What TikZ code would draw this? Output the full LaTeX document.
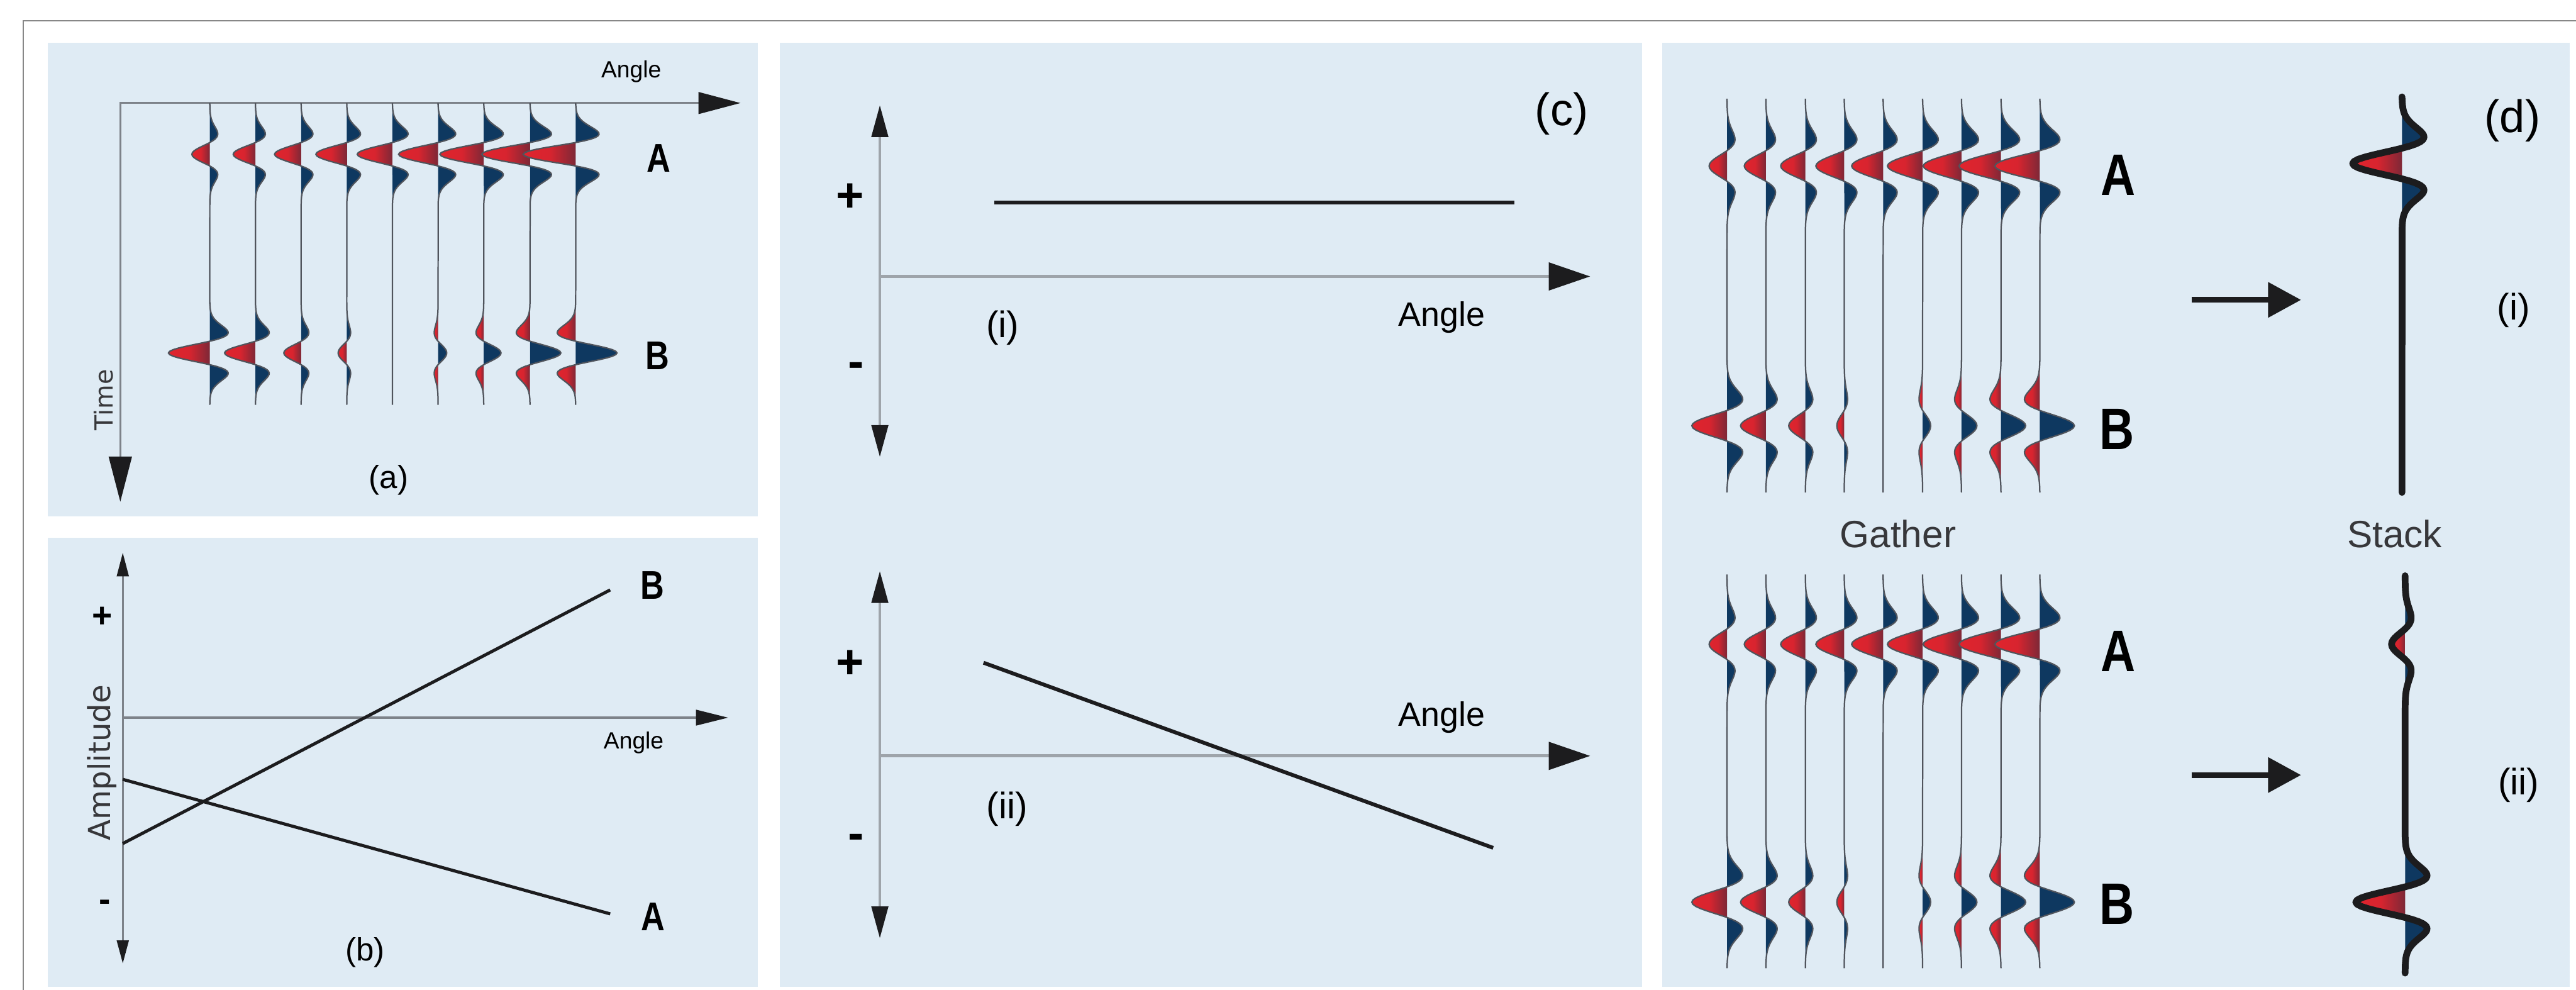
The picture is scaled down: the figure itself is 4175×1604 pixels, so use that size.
\documentclass[tikz,border=0pt]{standalone}
\usepackage{fontspec}
\setmainfont{Liberation Sans}
\newfontfamily\lsans{Liberation Sans}
\newfontfamily\nsans[FakeStretch=0.82]{Liberation Sans}
\newfontfamily\dsans{DejaVu Sans}
\definecolor{panelbg}{RGB}{223,235,244}
\definecolor{framec}{RGB}{135,135,135}
\definecolor{axisa}{RGB}{125,130,137}
\definecolor{axisc}{RGB}{158,164,170}
\definecolor{wredb}{RGB}{224,36,46}
\definecolor{wredd}{RGB}{125,40,55}
\definecolor{wblue}{RGB}{14,56,96}
\definecolor{tracec}{RGB}{80,84,92}
\definecolor{inkc}{RGB}{28,28,30}
\definecolor{textg}{RGB}{55,55,58}
\pgfmathdeclarefunction{ric}{1}{\pgfmathparse{(1-2*(#1)*(#1))*exp(-(#1)*(#1))}}
% filled lobes of one wavelet: x0, yc, amplitude, scale
\newcommand\wfill[4]{%
  \ifdim #3pt=0pt\else
    \pgfmathsetmacro\wz{#4*0.70711}%
    \pgfmathsetmacro\ww{#4*3}%
    \ifdim #3pt<0pt \def\wcc{redlobe}\def\wcs{bluelobe}\else\def\wcc{bluelobe}\def\wcs{redlobe}\fi
    \path[\wcc] ({#1},{#2-\wz}) -- plot[domain=-\wz:\wz,samples=25] ({#1+(#3)*ric(\x/#4)},{#2+\x}) -- cycle;
    \path[\wcs] ({#1},{#2-\ww}) -- plot[domain=-\ww:-\wz,samples=25] ({#1+(#3)*ric(\x/#4)},{#2+\x}) -- cycle;
    \path[\wcs] ({#1},{#2+\wz}) -- plot[domain=\wz:\ww,samples=25] ({#1+(#3)*ric(\x/#4)},{#2+\x}) -- cycle;
  \fi}
% wiggle line: style, x0, top, bottom, yA, ampA, yB, ampB, scale
\newcommand\wtrace[9]{%
  \pgfmathsetmacro\ww{#9*3}%
  \draw[#1] ({#2},{#3}) -- ({#2},{#5-\ww}) -- plot[domain=-\ww:\ww,samples=61] ({#2+(#6)*ric(\x/#9)},{#5+\x})
    -- ({#2},{#7-\ww}) -- plot[domain=-\ww:\ww,samples=61] ({#2+(#8)*ric(\x/#9)},{#7+\x}) -- ({#2},{#4});}
\begin{document}
\begin{tikzpicture}[x=0.01cm,y=-0.01cm,
  frame/.style={draw=framec,line width=0.6pt},
  panel/.style={fill=panelbg},
  axa/.style={draw=axisa,line width=0.9pt},
  axb/.style={draw=axisa,line width=1pt},
  axc/.style={draw=axisc,line width=1.4pt},
  tipf/.style={fill=inkc},
  curveb/.style={draw=inkc,line width=1.45pt},
  curvec/.style={draw=inkc,line width=1.75pt},
  trln/.style={draw=tracec,line width=0.65pt},
  stk/.style={draw=inkc,line width=3.1pt,line join=round,line cap=round},
  redlobe/.style={left color=wredb,right color=wredd,middle color=wredb!92!wredd},
  bluelobe/.style={fill=wblue},
  sarrow/.style={draw=inkc,line width=2.6pt},
  lbl/.style={inner sep=0pt,text=black},
  angS/.style={lbl,font=\lsans\fontsize{10.8}{12}\selectfont},
  angL/.style={lbl,font=\lsans\fontsize{15.6}{18}\selectfont},
  capS/.style={lbl,font=\lsans\fontsize{14.8}{17}\selectfont},
  capL/.style={lbl,font=\lsans\fontsize{21}{24}\selectfont},
  romS/.style={lbl,font=\lsans\fontsize{17}{20}\selectfont},
  evS/.style={lbl,font=\nsans\bfseries\fontsize{18.5}{20}\selectfont},
  evL/.style={lbl,font=\nsans\bfseries\fontsize{27}{30}\selectfont},
  sgnS/.style={lbl,font=\lsans\bfseries\fontsize{16}{18}\selectfont},
  sgnL/.style={lbl,font=\lsans\bfseries\fontsize{22}{24}\selectfont},
  axT/.style={lbl,text=textg,font=\dsans\fontsize{11.5}{13}\selectfont},
  axAmp/.style={lbl,text=textg,font=\dsans\fontsize{14}{16}\selectfont},
  gst/.style={lbl,text=textg,font=\lsans\fontsize{17.5}{20}\selectfont}]
\useasboundingbox (0,0) rectangle (4175,1604);
\fill[white] (0,0) rectangle (4175,1604);
% outer frame
\draw[frame] (38,1604) -- (38,34) -- (4175,34);
% panels
\fill[panel] (77,69) rectangle (1228,837);
\fill[panel] (77,872) rectangle (1228,1599);
\fill[panel] (1264,69) rectangle (2661,1599);
\fill[panel] (2694,69) rectangle (4165,1599);

% ---------------- panel (a)
\coordinate (aO) at (195,167);
\coordinate (aX) at (1200,167);
\coordinate (aY) at (195,813);
\draw[axa] (195,745) -- (aO) -- (1140,167);
\fill[tipf] (aX) -- (1132,149) -- (1132,185) -- cycle;
\fill[tipf] (aY) -- (176,740) -- (214,740) -- cycle;
\foreach \xk/\aa/\ab in {340/-29/-67, 414/-36/-50, 488/-43/-28, 562/-50/-14, 636/-57/0, 710/-64/14, 784/-71/28, 859/-78/50, 933/-85/67}{
  \wfill{\xk}{250}{\aa}{26.9}
  \wfill{\xk}{572}{\ab}{26.9}
  \wtrace{trln}{\xk}{167}{656}{250}{\aa}{572}{\ab}{26.9}
}
\node[angS,anchor=base] (aAngle) at (1023,126) {Angle};
\node[evS] (aA) at (1068,256) {A};
\node[evS] (aB) at (1066,576) {B};
\node[axT,rotate=90] (aTime) at (168,648) {Time};
\node[capS] (aCap) at (630,778) {(a)};

% ---------------- panel (b)
\coordinate (bO) at (199,1163);
\coordinate (bUp) at (199,896);
\coordinate (bDn) at (199,1561);
\coordinate (bX) at (1180,1163);
\draw[axb] (199,930) -- (199,1528);
\draw[axb] (bO) -- (1135,1163);
\fill[tipf] (bUp) -- (189,934) -- (209,934) -- cycle;
\fill[tipf] (bDn) -- (189,1524) -- (209,1524) -- cycle;
\fill[tipf] (bX) -- (1128,1150) -- (1128,1176) -- cycle;
\coordinate (bB0) at (199,1367);
\coordinate (bB1) at (989,956);
\coordinate (bA0) at (199,1263);
\coordinate (bA1) at (989,1481);
\draw[curveb] (bB0) -- (bB1);
\draw[curveb] (bA0) -- (bA1);
\node[sgnS] (bPlus) at (166,1000) {+};
\node[sgnS] (bMinus) at (170,1467) {-};
\node[axAmp,rotate=90] (bAmp) at (165,1236) {Amplitude};
\node[angS,anchor=base] (bAngle) at (1027,1213) {Angle};
\node[evS] (bBl) at (1057,948) {B};
\node[evS] (bAl) at (1058,1486) {A};
\node[capS] (bCap) at (592,1543) {(b)};

% ---------------- panel (c)
\node[capL] (cCap) at (2531,184) {(c)};
% (i)
\coordinate (ciO) at (1426,448);
\coordinate (ciUp) at (1426,171);
\coordinate (ciDn) at (1426,740);
\coordinate (ciX) at (2577,448);
\draw[axc] (1426,218) -- (1426,693);
\draw[axc] (ciO) -- (2520,448);
\fill[tipf] (ciUp) -- (1412,222) -- (1440,222) -- cycle;
\fill[tipf] (ciDn) -- (1412,689) -- (1440,689) -- cycle;
\fill[tipf] (ciX) -- (2510,425) -- (2510,471) -- cycle;
\coordinate (ciL0) at (1611,328);
\coordinate (ciL1) at (2454,328);
\draw[curvec] (ciL0) -- (ciL1);
\node[sgnL] (ciPlus) at (1378,320) {+};
\node[sgnL] (ciMinus) at (1387,600) {-};
\node[angL,anchor=base] (ciAngle) at (2337,528) {Angle};
\node[romS] (ciLab) at (1625,531) {(i)};
% (ii)
\coordinate (ciiO) at (1426,1225);
\coordinate (ciiUp) at (1426,926);
\coordinate (ciiDn) at (1426,1520);
\coordinate (ciiX) at (2577,1225);
\draw[axc] (1426,973) -- (1426,1473);
\draw[axc] (ciiO) -- (2520,1225);
\fill[tipf] (ciiUp) -- (1412,977) -- (1440,977) -- cycle;
\fill[tipf] (ciiDn) -- (1412,1469) -- (1440,1469) -- cycle;
\fill[tipf] (ciiX) -- (2510,1202) -- (2510,1248) -- cycle;
\coordinate (ciiL0) at (1594,1074);
\coordinate (ciiL1) at (2420,1374);
\draw[curvec] (ciiL0) -- (ciiL1);
\node[sgnL] (ciiPlus) at (1378,1077) {+};
\node[sgnL] (ciiMinus) at (1387,1364) {-};
\node[angL,anchor=base] (ciiAngle) at (2337,1177) {Angle};
\node[romS] (ciiLab) at (1632,1311) {(ii)};

% ---------------- panel (d)
\node[capL] (dCap) at (4072,195) {(d)};
% gathers
\foreach \xk/\aa/\ab in {2799/-29/-57, 2862/-35/-41, 2926/-40/-27, 2989/-46/-12, 3052/-51/0, 3116/-57/13, 3179/-62/25, 3243/-68/40, 3306/-73/56}{
  \wfill{\xk}{269}{\aa}{35.1}
  \wfill{\xk}{690}{\ab}{35.1}
  \wtrace{trln}{\xk}{160}{798}{269}{\aa}{690}{\ab}{35.1}
  \wfill{\xk}{1044}{\aa}{35.1}
  \wfill{\xk}{1462}{\ab}{35.1}
  \wtrace{trln}{\xk}{931}{1569}{1044}{\aa}{1462}{\ab}{35.1}
}
\node[evL] (dA1) at (3433,284) {A};
\node[evL] (dB1) at (3431,696) {B};
\node[evL] (dA2) at (3433,1055) {A};
\node[evL] (dB2) at (3431,1465) {B};
\node[gst,anchor=base] (dGather) at (3076,887) {Gather};
\node[gst,anchor=base] (dStack) at (3881,887) {Stack};
% stacks
\wfill{3893}{265}{-80}{35.1}
\wtrace{stk}{3893}{157}{798}{265}{-80}{690}{0}{35.1}
\wfill{3898}{1044}{-22}{35.1}
\wfill{3898}{1462}{-80}{35.1}
\wtrace{stk}{3898}{933}{1577}{1044}{-22}{1462}{-80}{35.1}
% arrows gather -> stack
\coordinate (dAr1s) at (3552,486);
\coordinate (dAr1e) at (3729,486);
\draw[sarrow] (dAr1s) -- (3685,486);
\fill[tipf] (dAr1e) -- (3676,457) -- (3676,515) -- cycle;
\coordinate (dAr2s) at (3552,1256);
\coordinate (dAr2e) at (3729,1256);
\draw[sarrow] (dAr2s) -- (3685,1256);
\fill[tipf] (dAr2e) -- (3676,1227) -- (3676,1285) -- cycle;
\node[romS] (dLi) at (4074,503) {(i)};
\node[romS] (dLii) at (4082,1272) {(ii)};
\end{tikzpicture}
\end{document}
